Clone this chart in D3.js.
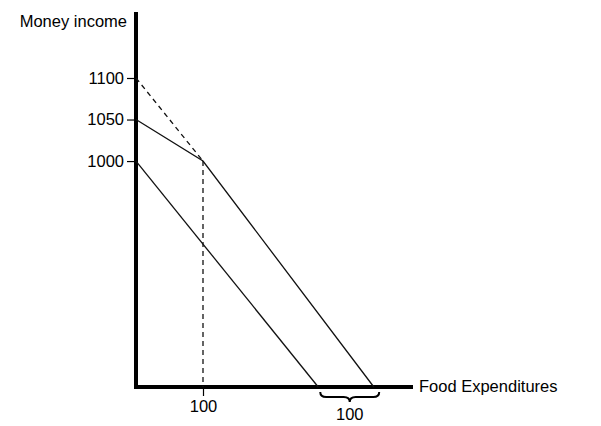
<!DOCTYPE html>
<html><head><meta charset="utf-8">
<script src="https://cdn.jsdelivr.net/npm/d3@7/dist/d3.min.js"></script>
<style>body{margin:0;background:#fff}svg{display:block}text{font-family:"Liberation Sans",Arial,sans-serif;fill:#000}</style>
</head><body><svg id="c" width="601" height="426"></svg>
<script>
// data (food expenditure, money income)
const yTicks = [1000, 1050, 1100];
const xTicks = [100];
const budgetOriginal = [[0, 1000], [272, 728]];
const budgetKinked = [[0, 1050], [100, 1000], [355, 728]];
const budgetCash = [[0, 1100], [100, 1000]];
const foodStampLine = [[100, 1000], [100, 728]];
const braceRange = [275, 363];
const braceLabel = "100";
const yLabel = "Money income";
const xLabel = "Food Expenditures";

const FS = 16.5;
const svg = d3.select("#c");
const x = d3.scaleLinear().domain([0, 100]).range([136, 203]);
const y = d3.scaleLinear().domain([728, 1100]).range([387, 78]);
const yTop = y.invert(12), xRight = x.invert(413);

const line = d3.line().x(d => x(d[0])).y(d => y(d[1]));

// axes lines (thick)
svg.append("line").attr("x1", x(0)).attr("x2", x(0)).attr("y1", y(yTop)).attr("y2", y(728) + 2)
  .attr("stroke", "#000").attr("stroke-width", 4);
svg.append("line").attr("x1", x(0) - 2).attr("x2", x(xRight)).attr("y1", y(728)).attr("y2", y(728))
  .attr("stroke", "#000").attr("stroke-width", 4);

// y axis ticks
const ya = svg.append("g").attr("transform", `translate(${x(0)},0)`)
  .call(d3.axisLeft(y).tickValues(yTicks).tickSize(9).tickPadding(3).tickFormat(d3.format("d")));
ya.select(".domain").remove();
ya.selectAll("line").attr("stroke", "#000").attr("stroke-width", 1.2);
ya.selectAll("text").attr("font-size", FS).attr("font-family", "Liberation Sans, Arial, sans-serif").attr("fill", "#000");

// x axis ticks
const xa = svg.append("g").attr("transform", `translate(0,${y(728) + 2})`)
  .call(d3.axisBottom(x).tickValues(xTicks).tickSize(7).tickPadding(4).tickFormat(d3.format("d")));
xa.select(".domain").remove();
xa.selectAll("line").attr("stroke", "#000").attr("stroke-width", 1.2);
xa.selectAll("text").attr("font-size", FS).attr("font-family", "Liberation Sans, Arial, sans-serif").attr("fill", "#000");

// budget lines
svg.append("path").attr("d", line(budgetOriginal)).attr("fill", "none").attr("stroke", "#111").attr("stroke-width", 1.3);
svg.append("path").attr("d", line(budgetKinked)).attr("fill", "none").attr("stroke", "#111").attr("stroke-width", 1.3);
svg.append("path").attr("d", line(budgetCash)).attr("fill", "none").attr("stroke", "#111").attr("stroke-width", 1.3).attr("stroke-dasharray", "5,4");
svg.append("path").attr("d", line(foodStampLine)).attr("fill", "none").attr("stroke", "#111").attr("stroke-width", 1.3).attr("stroke-dasharray", "5,4");

// brace
const bx1 = x(braceRange[0]), bx2 = x(braceRange[1]), bm = (bx1 + bx2) / 2;
const by = y(728) + 5, bh = 10, r = 6;
const bp = `M${bx1},${by} Q${bx1},${by + bh / 2} ${bx1 + r},${by + bh / 2} L${bm - r},${by + bh / 2} Q${bm},${by + bh / 2} ${bm},${by + bh} Q${bm},${by + bh / 2} ${bm + r},${by + bh / 2} L${bx2 - r},${by + bh / 2} Q${bx2},${by + bh / 2} ${bx2},${by}`;
svg.append("path").attr("d", bp).attr("fill", "none").attr("stroke", "#000").attr("stroke-width", 2);
svg.append("text").attr("x", bm).attr("y", 420).attr("text-anchor", "middle").attr("font-size", FS).text(braceLabel);

// axis titles
svg.append("text").attr("x", 127).attr("y", 27).attr("text-anchor", "end").attr("font-size", FS).text(yLabel);
svg.append("text").attr("x", 419).attr("y", 392).attr("font-size", FS).text(xLabel);
</script></body></html>
